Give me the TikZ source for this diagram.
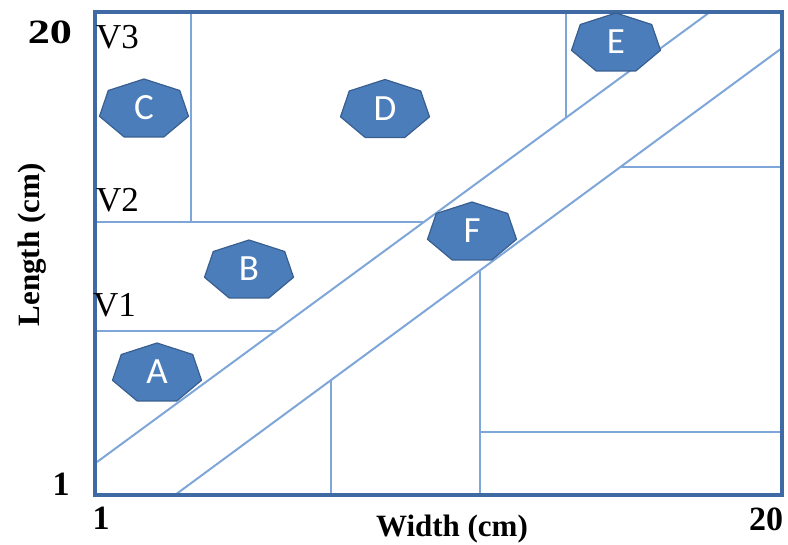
\documentclass[tikz,border=0pt]{standalone}
\usepackage{fontspec}
\setmainfont{Liberation Serif}
\newfontfamily\labelfont{Carlito}
\begin{document}
\begin{tikzpicture}[x=1pt,y=-1pt,
  frame/.style={draw=frameblue,line width=3.5pt},
  cut/.style={draw=cutblue,line width=2pt},
  heptfill/.style={fill=heptblue,draw=heptedge,line width=1.2pt,line join=round},
  hepttext/.style={text=white,font=\labelfont\fontsize{37}{37}\selectfont,inner sep=0pt},
  vlabel/.style={font=\fontsize{35}{35}\selectfont,inner sep=0pt,anchor=west},
  ticklabel/.style={font=\bfseries\fontsize{34}{34}\selectfont,inner sep=0pt},
  axislabel/.style={font=\bfseries\fontsize{31}{31}\selectfont,inner sep=0pt}]
\definecolor{frameblue}{HTML}{3F6AA3}
\definecolor{cutblue}{HTML}{7FA6D9}
\definecolor{heptblue}{HTML}{4A7DBA}
\definecolor{heptedge}{HTML}{395F90}
\newcommand{\hepta}[3]{%
  \draw[heptfill] (#2,#3) ++(0,-30.5) -- ++(35.7,11.5) -- ++(8.8,25.8)
    -- ++(-24.7,20.7) -- ++(-39.6,0) -- ++(-24.7,-20.7) -- ++(8.8,-25.8) -- cycle;
  \node[hepttext] (#1) at (#2,#3-1.5) {#1};}
\useasboundingbox (0,0) rectangle (788,545);
% board corners
\coordinate (tl) at (95,12);
\coordinate (br) at (782,495);
% diagonal strip
\coordinate (u1) at (97,462);
\coordinate (u2) at (710,12);
\coordinate (l1) at (175,495);
\coordinate (l2) at (782,48);
% cuts above the strip
\coordinate (v2a) at (95,222);
\coordinate (v2b) at (424,222);
\coordinate (v1a) at (95,331);
\coordinate (v1b) at (275,331);
\coordinate (c1t) at (191,12);
\coordinate (c1b) at (191,222);
\coordinate (c2t) at (566,12);
\coordinate (c2b) at (566,118);
% cuts below the strip
\coordinate (r1a) at (620,167);
\coordinate (r1b) at (782,167);
\coordinate (d1t) at (480,270);
\coordinate (d1b) at (480,495);
\coordinate (r2a) at (480,432);
\coordinate (r2b) at (782,432);
\coordinate (d2t) at (331,380);
\coordinate (d2b) at (331,495);
\draw[cut] (u1) -- (u2);
\draw[cut] (l1) -- (l2);
\draw[cut] (v2a) -- (v2b);
\draw[cut] (v1a) -- (v1b);
\draw[cut] (c1t) -- (c1b);
\draw[cut] (c2t) -- (c2b);
\draw[cut] (r1a) -- (r1b);
\draw[cut] (d1t) -- (d1b);
\draw[cut] (r2a) -- (r2b);
\draw[cut] (d2t) -- (d2b);
\draw[frame] (tl) rectangle (br);
% pieces
\hepta{A}{157}{373.5}
\hepta{B}{249}{270.5}
\hepta{C}{144}{109.5}
\hepta{D}{385}{110}
\hepta{E}{616}{43.5}
\hepta{F}{472}{232.5}
% level labels
\node[vlabel] (V3) at (96,37) {V3};
\node[vlabel] (V2) at (96,200) {V2};
\node[vlabel] (V1) at (93,305) {V1};
% axis ticks
\node[ticklabel,xscale=1.3] (y20) at (50,32) {20};
\node[ticklabel] (y1) at (61,484) {1};
\node[ticklabel] (x1) at (101,518) {1};
\node[ticklabel] (x20) at (766,519) {20};
% axis titles
\node[axislabel,anchor=base] (wl) at (452,536.5) {Width (cm)};
\node[axislabel,rotate=90] (ll) at (32,245) {Length (cm)};
\end{tikzpicture}
\end{document}
